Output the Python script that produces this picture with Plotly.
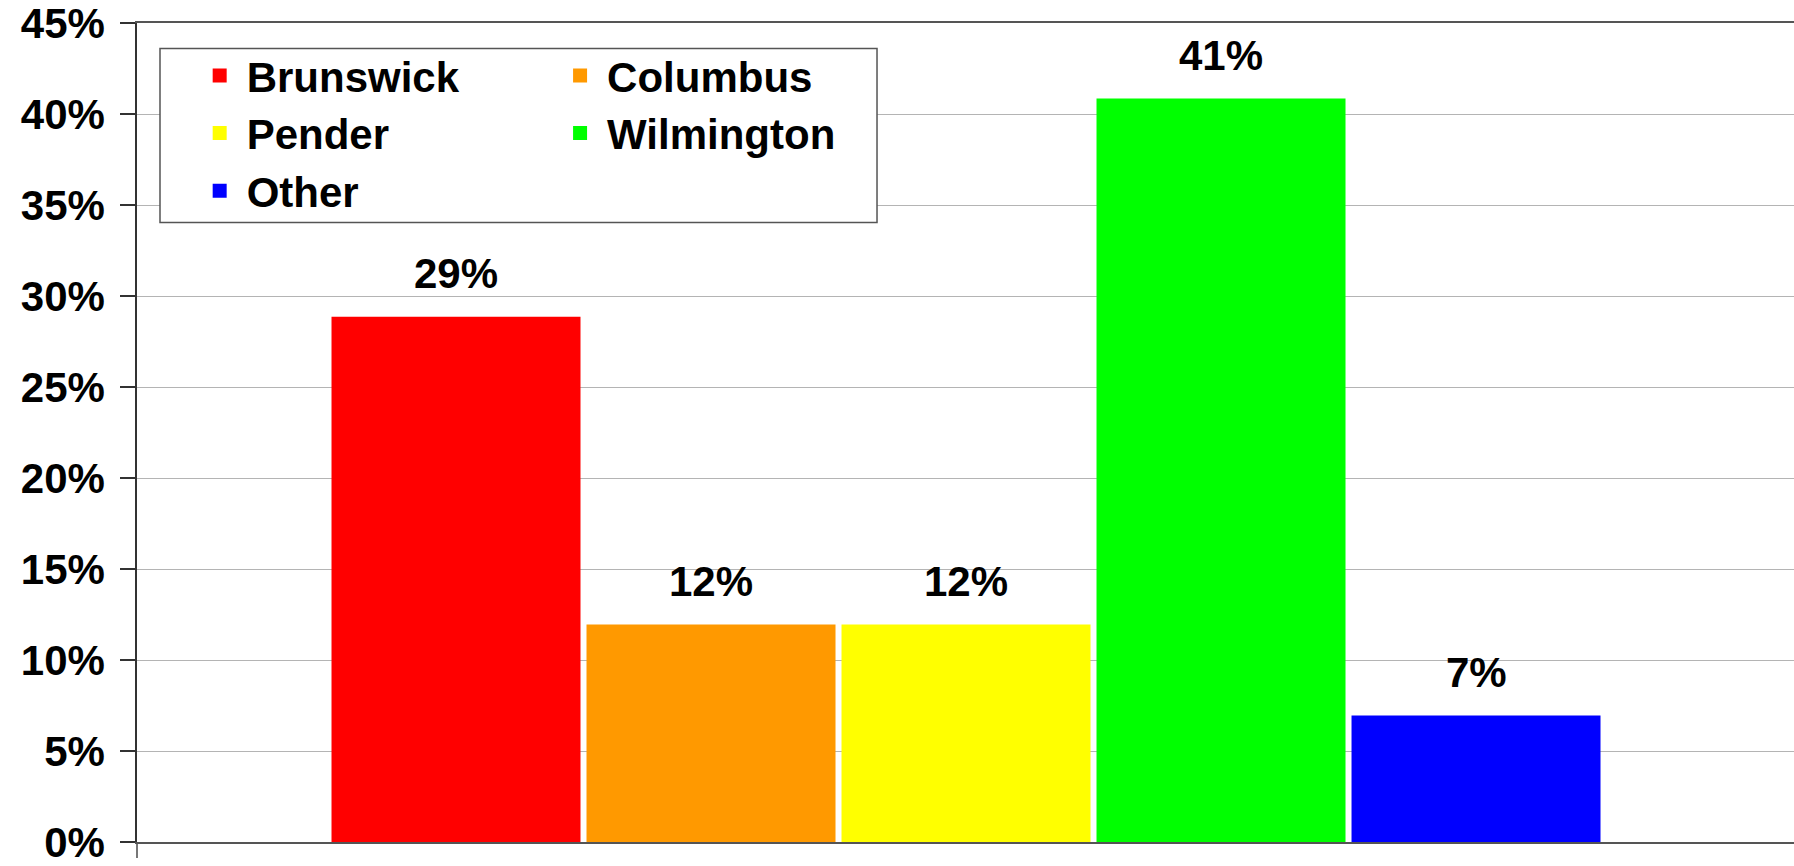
import plotly.graph_objects as go

# Share of total by county
counties = ["Brunswick", "Columbus", "Pender", "Wilmington", "Other"]
shares = [0.288, 0.119, 0.119, 0.408, 0.069]
colors = ["#FF0000", "#FF9900", "#FFFF00", "#00FF00", "#0000FF"]
# legend column for each county (two-column legend)
legend_cols = ["legend", "legend2", "legend", "legend2", "legend"]

y_ticks = [0, 0.05, 0.10, 0.15, 0.20, 0.25, 0.30, 0.35, 0.40, 0.45]

FONT = "Liberation Sans, Arial, sans-serif"
OUTLINE = 2  # bar outline in the fill colour (also enlarges the legend swatch)

fig = go.Figure()
for i, (name, val, col, lg) in enumerate(zip(counties, shares, colors, legend_cols)):
    fig.add_trace(go.Bar(
        x=[i], y=[val], name=name, width=0.9686,
        marker=dict(color=col, line=dict(color=col, width=OUTLINE)),
        legend=lg, hoverinfo="skip",
    ))
    fig.add_annotation(
        x=i, y=val, text=f"{val:.0%}", showarrow=False,
        yanchor="middle", yshift=44,
        font=dict(family=FONT, size=42, color="black", weight="bold"),
    )

# legend frame
fig.add_shape(type="rect", xref="paper", yref="paper",
              x0=0.01388, x1=0.4466, y0=0.7564, y1=0.9689,
              line=dict(color="#555555", width=1.5), fillcolor="white",
              layer="above")

legend_common = dict(
    font=dict(family=FONT, size=42, color="black", weight="bold"),
    bgcolor="rgba(0,0,0,0)", borderwidth=0,
    xanchor="left", yanchor="top", orientation="v",
    itemwidth=44,
)

fig.update_layout(
    width=1794, height=866,
    margin=dict(l=137, r=0, t=23, b=22),
    paper_bgcolor="white", plot_bgcolor="white",
    barmode="overlay",
    showlegend=True,
    legend=dict(x=0.0336, y=0.9772, **legend_common),
    legend2=dict(x=0.2511, y=0.9772, **legend_common),
    xaxis=dict(
        range=[-1.251, 5.247], showgrid=False, zeroline=False,
        showline=True, linecolor="#555555", linewidth=2, mirror=True,
        tickvals=[-1.2505], ticks="outside", ticklen=14, tickcolor="#777777",
        tickwidth=1.5, showticklabels=False,
    ),
    yaxis=dict(
        range=[0, 0.45], tickvals=y_ticks, tickformat=".0%",
        showgrid=True, gridcolor="#B4B4B4", gridwidth=1.2, zeroline=False,
        showline=True, linecolor="#333333", linewidth=1.5,
        ticks="outside", ticklen=15, tickcolor="#333333", tickwidth=1.5,
        ticklabelstandoff=7, ticklabeloverflow="allow",
        tickfont=dict(family=FONT, size=42, color="black", weight="bold"),
    ),
)

fig.write_html("out.html")
